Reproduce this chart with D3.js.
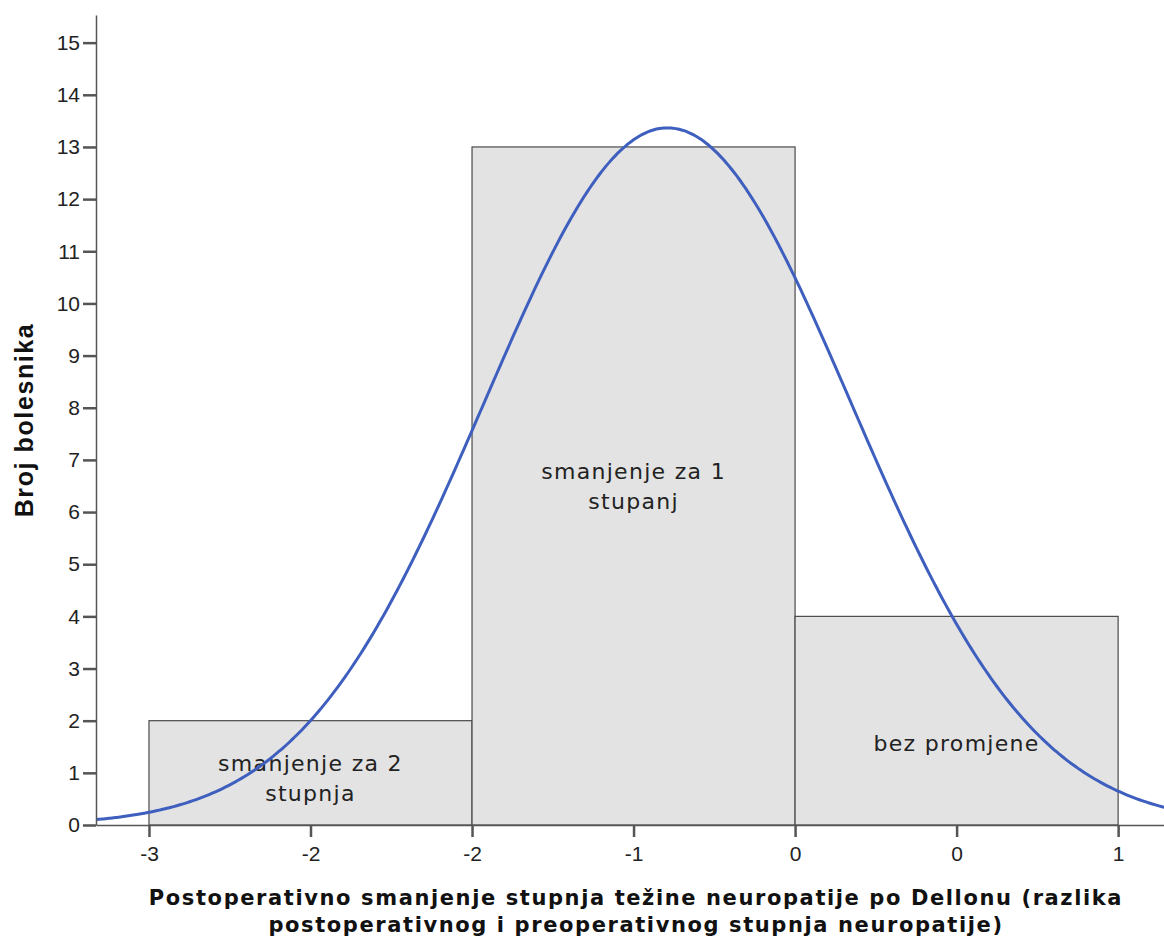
<!DOCTYPE html>
<html>
<head>
<meta charset="utf-8">
<script src="https://cdn.jsdelivr.net/npm/d3@7"></script>
<style>
  body { margin: 0; background: #fff; }
  svg { display: block; }
</style>
</head>
<body>
<div id="chart"></div>
<script>
// histogram bins (change in Dellon grade) and patient counts
var binCenters = [-2, -1, 0];
var counts = [2, 13, 4];
var barLabels = [["smanjenje za 2", "stupnja"], ["smanjenje za 1", "stupanj"], ["bez promjene"]];
// x tick positions (bin edges and centers) with the labels SPSS printed
var xTickValues = [-2.5, -2, -1.5, -1, -0.5, 0, 0.5];
var xTickLabels = ["-3", "-2", "-2", "-1", "0", "0", "1"];
var yTicks = d3.range(0, 16);

var xTitle = ["Postoperativno smanjenje stupnja težine neuropatije po Dellonu (razlika",
              "postoperativnog i preoperativnog stupnja neuropatije)"];
var yTitle = "Broj bolesnika";

var width = 1164, height = 941;
var labelAt = [0.9, 6.5, 1.57]; // vertical anchor of the bar labels, in counts

var svg = d3.select("#chart").append("svg")
    .attr("width", width)
    .attr("height", height);

var x = d3.scaleLinear().domain([-2.664, 0.642]).range([96, 1164]);
var y = d3.scaleLinear().domain([0, 15.53]).range([825, 15]);
var binW = 1;

// bars
svg.selectAll("rect.bar")
    .data(binCenters)
    .enter().append("rect")
    .attr("class", "bar")
    .attr("x", d => x(d - binW / 2))
    .attr("width", d => x(d + binW / 2) - x(d - binW / 2))
    .attr("y", (d, i) => y(counts[i]))
    .attr("height", (d, i) => y(0) - y(counts[i]))
    .attr("fill", "#e3e3e3")
    .attr("stroke", "#4a4a4a")
    .attr("stroke-width", 1.2);

// bar labels
binCenters.forEach(function(c, i) {
    var lines = barLabels[i];
    var t = svg.append("text")
        .attr("x", x(c))
        .attr("y", y(labelAt[i]))
        .attr("text-anchor", "middle")
        .style("font-family", "'DejaVu Sans', sans-serif")
        .style("font-size", "22px")
        .style("letter-spacing", "1.3px")
        .attr("fill", "#222");
    lines.forEach(function(l, j) {
        t.append("tspan")
            .attr("x", x(c))
            .attr("dy", j == 0 ? (0.35 - (lines.length - 1) * 0.68) + "em" : "1.36em")
            .text(l);
    });
});

// normal curve fitted from the histogram
var n = d3.sum(counts);
var mean = d3.sum(binCenters.map((c, i) => c * counts[i])) / n;
var ss = d3.sum(binCenters.map((c, i) => counts[i] * (c - mean) * (c - mean)));
var sd = Math.sqrt(ss / (n - 1));
var xs = d3.range(x.domain()[0], x.domain()[1] + 0.005, 0.01);
var curve = xs.map(v => [v, n * binW / (sd * Math.sqrt(2 * Math.PI)) * Math.exp(-0.5 * Math.pow((v - mean) / sd, 2))]);

svg.append("path")
    .datum(curve)
    .attr("fill", "none")
    .attr("stroke", "#3f5fbf")
    .attr("stroke-width", 3)
    .attr("d", d3.line().x(d => x(d[0])).y(d => y(d[1])).curve(d3.curveMonotoneX));

// axes
var yAxis = d3.axisLeft(y).tickValues(yTicks).tickSize(13).tickSizeOuter(0).tickPadding(3);
var gy = svg.append("g").attr("transform", "translate(96,0)").call(yAxis);

var xAxis = d3.axisBottom(x).tickValues(xTickValues)
    .tickFormat((d, i) => xTickLabels[i]).tickSize(12).tickSizeOuter(0).tickPadding(9);
var gx = svg.append("g").attr("transform", "translate(0,825)").call(xAxis);

[gx, gy].forEach(function(g) {
    g.select(".domain").attr("stroke", "#555").attr("stroke-width", 1.5);
    g.selectAll(".tick line").attr("stroke", "#555").attr("stroke-width", 2.5);
    g.selectAll(".tick text")
        .style("font-family", "'Liberation Sans', Arial, sans-serif")
        .style("font-size", "21px")
        .attr("fill", "#222");
});

// axis titles
var xt = svg.append("text")
    .attr("x", 636)
    .attr("y", 905)
    .attr("text-anchor", "middle")
    .style("font-family", "'DejaVu Sans', sans-serif")
    .style("font-weight", "bold")
    .style("font-size", "21px")
    .style("letter-spacing", "1.6px")
    .attr("fill", "#111");
xTitle.forEach(function(l, j) {
    xt.append("tspan").attr("x", 636).attr("dy", j == 0 ? 0 : "1.3em").text(l);
});

svg.append("text")
    .attr("transform", "translate(33,420) rotate(-90)")
    .attr("text-anchor", "middle")
    .style("font-family", "'Liberation Sans', Arial, sans-serif")
    .style("font-weight", "bold")
    .style("font-size", "25px")
    .style("letter-spacing", "1.6px")
    .attr("fill", "#111")
    .text(yTitle);
</script>
</body>
</html>
